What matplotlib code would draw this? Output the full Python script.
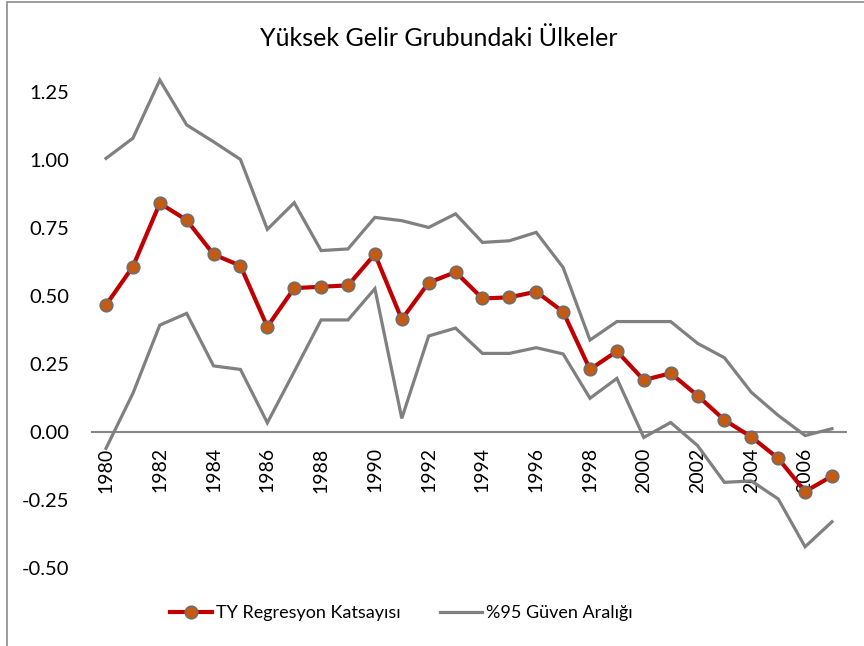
import matplotlib
matplotlib.use("Agg")
import matplotlib.pyplot as plt
from matplotlib.patches import Rectangle

years = list(range(1980, 2008))
coef = [0.467, 0.608, 0.841, 0.779, 0.653, 0.611, 0.387, 0.529, 0.534, 0.539,
        0.654, 0.414, 0.549, 0.588, 0.491, 0.495, 0.516, 0.442, 0.230, 0.297,
        0.191, 0.216, 0.134, 0.044, -0.018, -0.097, -0.219, -0.162]
upper = [1.006, 1.080, 1.294, 1.129, 1.067, 1.002, 0.745, 0.843, 0.667, 0.673,
         0.789, 0.777, 0.752, 0.802, 0.697, 0.703, 0.734, 0.605, 0.338, 0.406,
         0.406, 0.406, 0.326, 0.273, 0.146, 0.061, -0.013, 0.012]
lower = [-0.060, 0.142, 0.393, 0.436, 0.243, 0.230, 0.034, 0.222, 0.412, 0.412,
         0.527, 0.050, 0.353, 0.382, 0.289, 0.289, 0.310, 0.287, 0.124, 0.197,
         -0.020, 0.035, -0.050, -0.185, -0.180, -0.246, -0.422, -0.330]
yticks = [-0.50, -0.25, 0.00, 0.25, 0.50, 0.75, 1.00, 1.25]
xtick_years = list(range(1980, 2008, 2))

title = "Yüksek Gelir Grubundaki Ülkeler"
label_coef = "TY Regresyon Katsayısı"
label_ci = "%95 Güven Aralığı"

plt.rcParams['font.family'] = ['Lato', 'DejaVu Sans']

W, H = 864, 646
fig = plt.figure(figsize=(W / 100, H / 100), dpi=100)

# outer chart border (top and left visible)
fig.patches.append(Rectangle((7 / W, -0.05), 1.2, 1.05 - 1.5 / H,
                             transform=fig.transFigure, fill=False,
                             edgecolor='#8c8c8c', linewidth=1.2))

left, right = 92 / W, 846 / W
bottom_px, top_px = 568, 60
ax = fig.add_axes([left, 1 - bottom_px / H, right - left, (bottom_px - top_px) / H])
ax.set_facecolor('none')

gray = '#808080'
l_ci, = ax.plot(years, upper, color=gray, lw=2.3, solid_joinstyle='miter', zorder=2)
ax.plot(years, lower, color=gray, lw=2.3, solid_joinstyle='miter', zorder=2)
l_coef, = ax.plot(years, coef, color='#C00000', lw=3.0, marker='o', markersize=9,
                  markerfacecolor='#C55A11', markeredgecolor='#6e6e6e',
                  markeredgewidth=1.2, zorder=3)

ax.set_xlim(1980 - 14 / 26.85, 2007 + 14 / 26.85)
ax.set_ylim((432 - bottom_px) / 272, (432 - top_px) / 272)

for s in ['top', 'right', 'left']:
    ax.spines[s].set_visible(False)
ax.spines['bottom'].set_position(('data', 0))
ax.spines['bottom'].set_color('#868686')
ax.spines['bottom'].set_linewidth(1.5)
ax.spines['bottom'].set_zorder(1)

ax.set_yticks(yticks)
ax.set_yticklabels([f"{v:.2f}" for v in yticks])
ax.set_xticks(xtick_years)
ax.set_xticklabels([str(y) for y in xtick_years], rotation=90)
ax.tick_params(axis='y', length=0, pad=16.5, labelsize=14.5)
ax.tick_params(axis='x', length=0, pad=11, labelsize=14)

fig.text(0.5 * (258 + 620) / W, 1 - 38 / H, title, ha='center', va='center', fontsize=18)

leg = fig.legend([l_coef, l_ci], [label_coef, label_ci], loc='center',
                 bbox_to_anchor=(0.5 * (173 + 630) / W, 1 - 613 / H), ncol=2,
                 frameon=False, fontsize=13, handlelength=2.3, handletextpad=0.25,
                 columnspacing=2.2)

fig.savefig("out.png", dpi=100)
